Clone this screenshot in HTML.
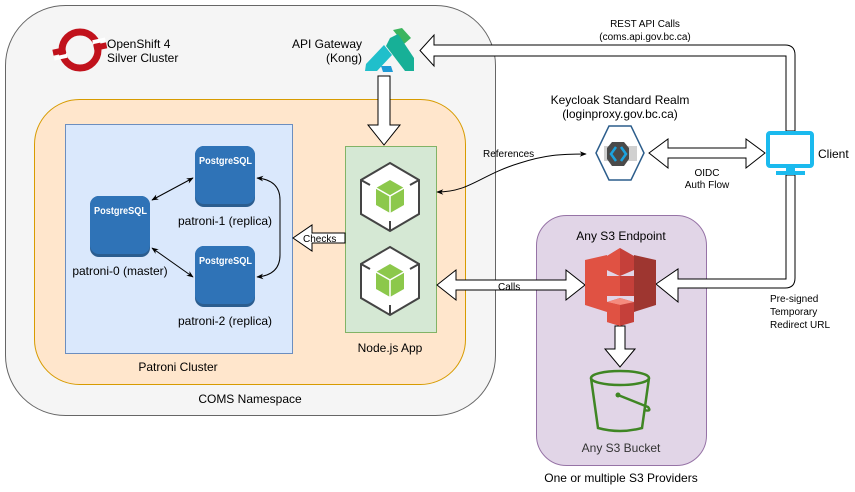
<!DOCTYPE html>
<html><head><meta charset="utf-8"><style>
html,body{margin:0;padding:0;background:#fff;}
svg{display:block;font-family:"Liberation Sans",Arial,sans-serif;}
</style></head><body>
<svg width="855" height="492" viewBox="0 0 855 492" xmlns="http://www.w3.org/2000/svg">
<defs>
<marker id="ah" viewBox="0 0 10 10" refX="9" refY="5" markerWidth="7" markerHeight="7" orient="auto-start-reverse"><path d="M0,1 L10,5 L0,9 L3,5z" fill="#000"/></marker>
<g id="cube">
<polygon points="0,-34 29,-17 29,17 0,34 -29,17 -29,-17" fill="#fff" stroke="#444" stroke-width="2"/>
<polygon points="0,-17 14,-9 14,8 0,16 -14,8 -14,-9" fill="#8cc84b"/>
<path d="M0,-1 L0,16 M0,-1 L14,-9 M0,-1 L-14,-9" stroke="#fff" stroke-width="1.5"/>
<path d="M20,-12 L29,-17 M-20,-12 L-29,-17 M0,24 L0,34" stroke="#444" stroke-width="2"/>
</g>
<g id="pg">
<rect x="0" y="0" width="60" height="61" rx="9" fill="#2b5d8f"/>
<rect x="0" y="0" width="60" height="58" rx="9" fill="#2f73b7"/>
<text x="4" y="18" font-size="10" font-weight="bold" fill="#fff" textLength="53" lengthAdjust="spacingAndGlyphs">PostgreSQL</text>
</g>
</defs>

<rect x="5.5" y="5.5" width="490" height="410" rx="60" fill="#f5f5f5" stroke="#666"/>
<rect x="34.5" y="99.5" width="431" height="285" rx="45" fill="#ffe6cc" stroke="#d79b00"/>
<rect x="65.5" y="124.5" width="227" height="229" fill="#dae8fc" stroke="#6c8ebf"/>
<rect x="345.5" y="146.5" width="91" height="186" fill="#d5e8d4" stroke="#82b366"/>
<rect x="536.5" y="215.5" width="170" height="250" rx="30" fill="#e1d5e7" stroke="#9673a6"/>

<!-- openshift logo -->
<g transform="translate(80,50)">
<circle r="18" fill="none" stroke="#c1121c" stroke-width="7"/>
<g transform="rotate(-12)">
<rect x="-27" y="-6" width="13" height="6" fill="#c1121c"/>
<rect x="14" y="-2" width="13" height="6" fill="#c1121c"/>
<rect x="-27" y="1" width="13" height="4" fill="#fff"/>
<rect x="14" y="-7" width="13" height="4" fill="#fff"/>
</g>
</g>
<text x="107" y="48" font-size="12">OpenShift 4</text>
<text x="107" y="62" font-size="12">Silver Cluster</text>

<text x="362" y="48" font-size="12" text-anchor="end">API Gateway</text>
<text x="362" y="62" font-size="12" text-anchor="end">(Kong)</text>
<g>
<polygon points="393,30 402,28 411,38 404,44" fill="#3cb55e"/>
<polygon points="390,38 398,34 414,58 414,71 405,71 386,46" fill="#17b097"/>
<polygon points="384,45 392,55 377,71 365,71 366,64" fill="#20bfcb"/>
<polygon points="381,66 391,66 393,72 383,72" fill="#1e9ad6"/>
</g>

<path d="M434,45 L785,45 Q795,45 795,55 L795,131 L786,131 L786,56 L434,56 L434,66 L420,50.5 L434,35 Z" fill="#fff" stroke="#000"/>
<text x="645" y="27" font-size="10" text-anchor="middle">REST API Calls</text>
<text x="645" y="40" font-size="10" text-anchor="middle">(coms.api.gov.bc.ca)</text>

<path d="M786,175 L795,175 L795,278 Q795,288 785,288 L678,288 L678,302 L656,284 L678,269 L678,279 L786,279 Z" fill="#fff" stroke="#000"/>
<text x="770" y="302" font-size="10">Pre-signed</text>
<text x="770" y="315" font-size="10">Temporary</text>
<text x="770" y="328" font-size="10">Redirect URL</text>

<path d="M378,76 L390,76 L390,125 L400,125 L384,145 L368,125 L378,125 Z" fill="#fff" stroke="#000"/>

<path d="M345,233 L312,233 L312,225 L293,238 L312,251 L312,243 L345,243 Z" fill="#fff" stroke="#000"/>
<text x="303" y="242" font-size="10">Checks</text>

<path d="M437,285 L456,270 L456,280 L566,280 L566,270 L585,285 L566,300 L566,290 L456,290 L456,300 Z" fill="#fff" stroke="#000"/>
<text x="498" y="290" font-size="10">Calls</text>

<path d="M649,153 L668,139 L668,148 L746,148 L746,139 L765,153 L746,168 L746,158 L668,158 L668,168 Z" fill="#fff" stroke="#000"/>
<text x="707" y="176" font-size="10" text-anchor="middle">OIDC</text>
<text x="707" y="188" font-size="10" text-anchor="middle">Auth Flow</text>

<path d="M615,326 L625,326 L625,349 L635,349 L620,367 L605,349 L615,349 Z" fill="#fff" stroke="#000"/>

<path d="M437,192 C470,192 480,175 520,163 C545,155 560,154 586,154" fill="none" stroke="#000" marker-start="url(#ah)" marker-end="url(#ah)"/>
<text x="483" y="157" font-size="10">References</text>

<text x="620" y="104" font-size="12" text-anchor="middle">Keycloak Standard Realm</text>
<text x="620" y="118" font-size="12" text-anchor="middle">(loginproxy.gov.bc.ca)</text>
<polygon points="609,126 631,126 644,153 631,180 609,180 596,153" fill="#fff" stroke="#2c5d8b" stroke-width="1.5"/>
<polygon points="604,146 637,146 637,161 604,161" fill="#d0d0d0"/>
<polygon points="612,142 624,142 629,148 629,159 624,166 612,166 607,159 607,148" fill="#4a4a4a"/>
<path d="M616,147 L611,154 L616,161 M621,147 L626,154 L621,161" stroke="#1aa3e0" stroke-width="2.5" fill="none"/>

<rect x="768" y="133" width="44" height="33" rx="2" fill="#fff" stroke="#1bbaee" stroke-width="4"/>
<rect x="786" y="166" width="9" height="6" fill="#1bbaee"/>
<rect x="776" y="171" width="29" height="4" fill="#1bbaee"/>
<text x="818" y="158" font-size="12">Client</text>

<text x="621" y="240" font-size="12" text-anchor="middle">Any S3 Endpoint</text>
<g>
<polygon points="585,260 607,255 607,312 585,305" fill="#e05243"/>
<polygon points="656,260 634,255 634,312 656,305" fill="#9e3630"/>
<polygon points="607,256 620,248 634,256 634,270 620,276 607,270" fill="#c5403a"/>
<polygon points="607,256 620,248 620,276 607,270" fill="#e05243"/>
<rect x="607" y="276" width="27" height="20" fill="#c5403a"/>
<rect x="607" y="276" width="13" height="20" fill="#e05243"/>
<polygon points="607,302 620,298 634,302 634,322 620,326 607,322" fill="#c5403a"/>
<polygon points="607,302 620,298 634,302 620,305" fill="#f58b7e"/>
<polygon points="607,302 620,305 620,326 607,322" fill="#e05243"/>
</g>

<g fill="none" stroke="#3f8624" stroke-width="2.5">
<ellipse cx="620" cy="378" rx="29" ry="7"/>
<path d="M591,378 L598,428 Q620,434 642,428 L649,378"/>
<path d="M618,395 L648,407 Q652,412 644,410"/>
</g>
<circle cx="618" cy="395" r="2.5" fill="#3f8624"/>
<text x="621" y="452" font-size="12" text-anchor="middle" fill="#333">Any S3 Bucket</text>
<text x="621" y="482" font-size="12" text-anchor="middle">One or multiple S3 Providers</text>

<use href="#cube" x="390" y="197"/>
<use href="#cube" x="390" y="281"/>
<text x="390" y="352" font-size="12" text-anchor="middle">Node.js App</text>

<use href="#pg" x="90" y="196"/>
<use href="#pg" x="195" y="146"/>
<use href="#pg" x="195" y="246"/>
<text x="120" y="275" font-size="12" text-anchor="middle">patroni-0 (master)</text>
<text x="225" y="225" font-size="12" text-anchor="middle">patroni-1 (replica)</text>
<text x="225" y="325" font-size="12" text-anchor="middle">patroni-2 (replica)</text>
<line x1="152" y1="200" x2="193" y2="178" stroke="#000" marker-start="url(#ah)" marker-end="url(#ah)"/>
<line x1="152" y1="248" x2="193" y2="277" stroke="#000" marker-start="url(#ah)" marker-end="url(#ah)"/>
<path d="M257,178 Q280,180 280,200 L280,255 Q280,275 257,277" fill="none" stroke="#000" marker-start="url(#ah)" marker-end="url(#ah)"/>
<text x="178" y="371" font-size="12" text-anchor="middle">Patroni Cluster</text>
<text x="250" y="403" font-size="12" text-anchor="middle">COMS Namespace</text>
</svg>
</body></html>
